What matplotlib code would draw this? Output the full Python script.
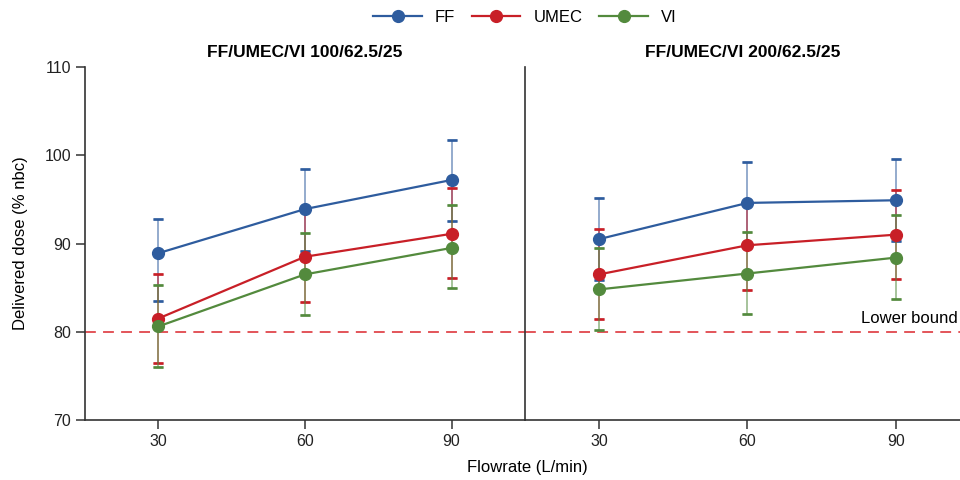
import numpy as np
import matplotlib.pyplot as plt

plt.rcParams['font.family'] = ['Liberation Sans', 'DejaVu Sans']

flow = [30, 60, 90]
titles = ["FF/UMEC/VI 100/62.5/25", "FF/UMEC/VI 200/62.5/25"]
names = ["FF", "UMEC", "VI"]
colors = ["#2e5c9e", "#c81f27", "#538a3d"]

# mean, lower end, upper end of each error bar
mean_100 = [[88.9, 93.9, 97.2], [81.5, 88.5, 91.1], [80.6, 86.5, 89.5]]
low_100 = [[83.5, 89.2, 92.6], [76.5, 83.4, 86.1], [76.0, 81.9, 85.0]]
high_100 = [[92.8, 98.4, 101.7], [86.5, 93.8, 96.3], [85.3, 91.2, 94.4]]

mean_200 = [[90.5, 94.6, 94.9], [86.5, 89.8, 91.0], [84.8, 86.6, 88.4]]
low_200 = [[85.9, 90.1, 90.3], [81.4, 84.7, 86.0], [80.2, 82.0, 83.7]]
high_200 = [[95.2, 99.2, 99.6], [91.6, 94.6, 96.1], [89.5, 91.3, 93.2]]

lower_bound = 80
spine_col = "#333333"

fig = plt.figure(figsize=(9.6, 4.8), dpi=100)
ax1 = fig.add_axes([0.0885, 0.125, 0.4583, 0.7354])
ax2 = fig.add_axes([0.5469, 0.125, 0.4531, 0.7354], sharey=ax1)
ax2.patch.set_visible(False)

panels = [(ax1, mean_100, low_100, high_100), (ax2, mean_200, low_200, high_200)]
handles = []
for k, (ax, m, lo, hi) in enumerate(panels):
    for i in range(3):
        mm = np.array(m[i])
        yerr = [mm - np.array(lo[i]), np.array(hi[i]) - mm]
        ax.errorbar(flow, mm, yerr=yerr, fmt='none', ecolor=colors[i],
                    elinewidth=1.2, capsize=3.5, capthick=1.8, alpha=0.6, zorder=2)
        ax.errorbar(flow, mm, yerr=yerr, fmt='none', ecolor=colors[i],
                    elinewidth=0, capsize=3.5, capthick=1.8, zorder=2)
        ln, = ax.plot(flow, mm, '-o', color=colors[i], lw=1.6, ms=8.5, zorder=3, label=names[i])
        if k == 0:
            handles.append(ln)
    ax.axhline(lower_bound, color='#e0474c', ls=(0, (6, 4)), lw=1.3, zorder=1)
    ax.set_title(titles[k], fontsize=12.5, fontweight='bold', pad=7)
    ax.set_xticks(flow)
    ax.tick_params(labelsize=11.5, direction='out', length=6.5, width=1.1,
                   color=spine_col, labelcolor='#222222')
    ax.spines['top'].set_visible(False)
    for s in ax.spines.values():
        s.set_color(spine_col)
        s.set_linewidth(1.2)

ax1.set_xlim(15, 105)
ax2.set_xlim(15, 103)
ax1.set_ylim(70, 110)
ax1.set_yticks([70, 80, 90, 100, 110])
ax1.set_ylabel("Delivered dose (% nbc)", fontsize=12, labelpad=12)
ax1.spines['right'].set_visible(False)
ax2.spines['right'].set_visible(False)
ax2.tick_params(axis='y', left=False, labelleft=False)
ax2.text(102.5, 80.7, "Lower bound", ha='right', va='bottom', fontsize=12)

fig.text(0.549, 0.01, "Flowrate (L/min)", ha='center', va='bottom', fontsize=12)
fig.legend(handles=handles, loc='upper center', bbox_to_anchor=(0.547, 1.01), ncol=3,
           frameon=False, fontsize=12, handlelength=2.9, columnspacing=1.0)

fig.savefig("out.png", dpi=100)
